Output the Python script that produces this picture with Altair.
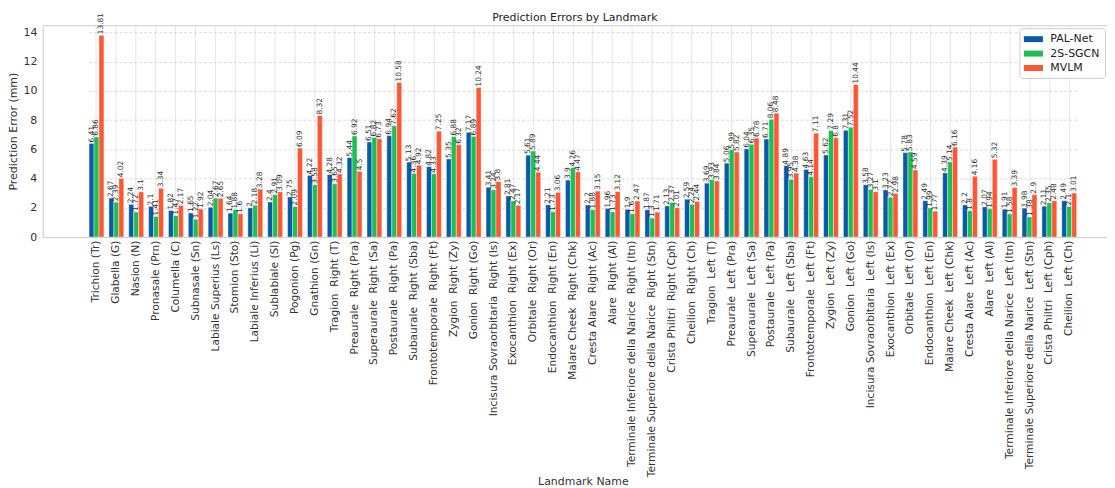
import altair as alt
import pandas as pd

landmarks = [
    "Trichion (Tr)", "Glabella (G)", "Nasion (N)", "Pronasale (Prn)", "Columella (C)",
    "Subnasale (Sn)", "Labiale Superius (Ls)", "Stomion (Sto)", "Labiale Inferius (Li)",
    "Sublabiale (Sl)", "Pogonion (Pg)", "Gnathion (Gn)", "Tragion  Right (T)",
    "Preaurale  Right (Pra)", "Superaurale  Right (Sa)", "Postaurale  Right (Pa)",
    "Subaurale  Right (Sba)", "Frontotemporale  Right (Ft)", "Zygion  Right (Zy)",
    "Gonion  Right (Go)", "Incisura Sovraorbitaria  Right (Is)", "Exocanthion  Right (Ex)",
    "Orbitale  Right (Or)", "Endocanthion  Right (En)", "Malare Cheek  Right (Chk)",
    "Cresta Alare  Right (Ac)", "Alare  Right (Al)",
    "Terminale Inferiore della Narice  Right (Itn)",
    "Terminale Superiore della Narice  Right (Stn)", "Crista Philtri  Right (Cph)",
    "Cheilion  Right (Ch)", "Tragion  Left (T)", "Preaurale  Left (Pra)",
    "Superaurale  Left (Sa)", "Postaurale  Left (Pa)", "Subaurale  Left (Sba)",
    "Frontotemporale  Left (Ft)", "Zygion  Left (Zy)", "Gonion  Left (Go)",
    "Incisura Sovraorbitaria  Left (Is)", "Exocanthion  Left (Ex)", "Orbitale  Left (Or)",
    "Endocanthion  Left (En)", "Malare Cheek  Left (Chk)", "Cresta Alare  Left (Ac)",
    "Alare  Left (Al)", "Terminale Inferiore della Narice  Left (Itn)",
    "Terminale Superiore della Narice  Left (Stn)", "Crista Philtri  Left (Cph)",
    "Cheilion  Left (Ch)",
]

pal_net = [6.41, 2.67, 2.24, 2.1, 1.82, 1.65, 2.04, 1.64, 2.0, 2.4,
           2.75, 4.22, 4.28, 5.44, 6.51, 6.94, 5.13, 4.82, 5.35, 7.17,
           3.41, 2.81, 5.61, 2.21, 3.9, 2.2, 1.96, 1.9, 1.87, 2.13,
           2.59, 3.69, 5.06, 6.04, 6.71, 4.89, 4.63, 5.62, 7.31, 3.58,
           3.23, 5.78, 2.49, 4.39, 2.2, 2.07, 1.91, 1.98, 2.11, 2.49]

sgcn = [6.86, 2.39, 1.72, 1.41, 1.47, 1.22, 2.67, 1.88, 2.18, 2.91,
        2.09, 3.58, 3.65, 6.92, 6.82, 7.62, 4.36, 4.33, 6.88, 6.89,
        3.24, 2.47, 5.89, 1.73, 4.76, 1.88, 1.73, 1.6, 1.3, 2.37,
        2.24, 3.93, 5.99, 6.35, 8.06, 3.95, 4.14, 7.29, 7.52, 3.27,
        2.72, 5.83, 1.99, 5.14, 1.8, 1.94, 1.58, 1.38, 2.35, 2.1]

mvlm = [13.81, 4.02, 3.1, 3.34, 2.17, 1.92, 2.65, 1.6, 3.28, 3.09,
        6.09, 8.32, 4.32, 4.5, 6.73, 10.58, 4.92, 7.25, 6.32, 10.24,
        3.8, 2.17, 4.44, 3.06, 4.47, 3.15, 3.12, 2.47, 1.71, 2.01,
        2.44, 3.84, 5.82, 6.78, 8.48, 4.38, 7.11, 6.8, 10.44, 3.1,
        2.98, 4.59, 1.77, 6.16, 4.16, 5.32, 3.39, 2.9, 2.48, 3.01]

models = ["PAL-Net", "2S-SGCN", "MVLM"]
colors = ["#0a5aa8", "#1dbf52", "#ff5733"]

# keep the double spaces visible in SVG text
display = [s.replace("  ", "\u00a0 ") for s in landmarks]

rows = []
for m, vals in zip(models, [pal_net, sgcn, mvlm]):
    for lm, v in zip(display, vals):
        rows.append({"Landmark": lm, "Model": m, "Error": v})
df = pd.DataFrame(rows)

FONT = "DejaVu Sans"

base = alt.Chart(df).encode(
    x=alt.X(
        "Landmark:N",
        sort=display,
        title="Landmark Name",
        scale=alt.Scale(paddingInner=0.25, paddingOuter=0, range=[46.5, 1039.5]),
        axis=alt.Axis(
            labelAngle=-90, labelFontSize=10.7, labelLimit=400, labelPadding=3,
            ticks=False, domain=False, grid=True, bandPosition=0.5,
            gridColor="#dedede", gridWidth=0.8, titleFontSize=11,
            titleFontWeight="normal", titleY=240, titleBaseline="top",
        ),
    ),
    xOffset=alt.XOffset("Model:N", sort=models),
    y=alt.Y(
        "Error:Q",
        title="Prediction Error (mm)",
        scale=alt.Scale(domain=[0, 14.5], nice=False),
        axis=alt.Axis(
            values=[0, 2, 4, 6, 8, 10, 12, 14], labelFontSize=11, ticks=False,
            domain=False, gridColor="#d0d0d0", gridDash=[3, 2], gridWidth=0.8,
            titleFontSize=11, titleFontWeight="normal", labelPadding=6,
            titlePadding=4,
        ),
    ),
)

bars = base.mark_bar(stroke="white", strokeWidth=0.4).encode(
    color=alt.Color(
        "Model:N",
        sort=models,
        scale=alt.Scale(domain=models, range=colors),
        legend=alt.Legend(
            title=None, orient="none", legendX=982, legendY=3,
            symbolType="M-1.6,-0.5H1.6V0.5H-1.6Z", symbolSize=144,
            symbolStrokeWidth=0, labelFontSize=11, rowPadding=3.5,
            fillColor="white", strokeColor="#cccccc", padding=5,
            cornerRadius=3, symbolOffset=3, labelOffset=11,
        ),
    )
)

labels = base.mark_text(
    angle=270, align="left", baseline="middle", dx=1, fontSize=7.5,
    color="#333333", font=FONT,
).encode(text=alt.Text("Error:Q"))

chart = (
    alt.layer(bars, labels)
    .properties(
        width=1070,
        height=213,
        title=alt.TitleParams(
            "Prediction Errors by Landmark", fontSize=11, fontWeight="normal",
            color="#222222", offset=3, dy=13, font=FONT,
        ),
        autosize=alt.AutoSizeParams(type="none"),
        padding={"left": 35, "top": 16, "right": 0, "bottom": 255},
    )
    .configure(font=FONT)
    .configure_view(stroke="#cccccc", strokeWidth=1)
    .configure_axis(labelColor="#333333", titleColor="#333333", labelFont=FONT, titleFont=FONT)
    .configure_legend(labelColor="#222222", labelFont=FONT)
)

chart.save("out.html", embed_options={"renderer": "svg", "actions": False})
